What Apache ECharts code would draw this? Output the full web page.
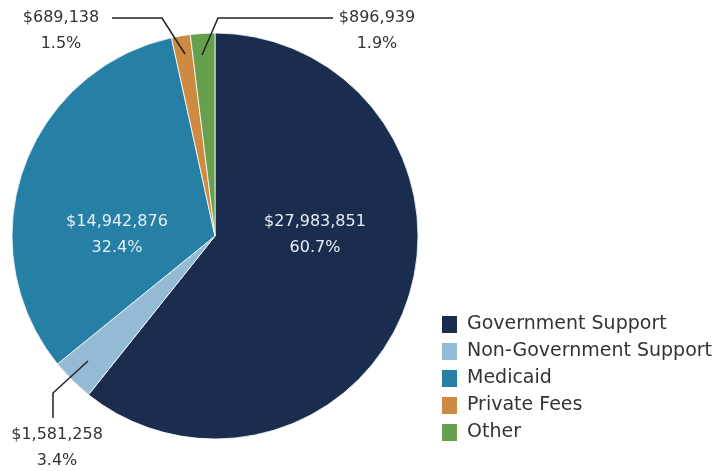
<!DOCTYPE html>
<html><head><meta charset="utf-8">
<script src="https://cdn.jsdelivr.net/npm/echarts@6/dist/echarts.min.js"></script>
<style>html,body{margin:0;padding:0;background:#fff}#c{width:727px;height:471px}</style>
</head><body><div id="c"></div>
<script>
const categories = ['Government Support','Non-Government Support','Medicaid','Private Fees','Other'];
const values = [27983851, 1581258, 14942876, 689138, 896939];
const colors = ['#1b2d4f','#95bad6','#2680a6','#cf8a42','#66a04e'];

const CX = 215, CY = 236, R = 203;
const FONT = 'DejaVu Sans';
// label layout per slice (offsets relative to pie centre)
const layouts = [
  {x: 100, y: -1},
  {x: -158, y: 212, line: [[-127,125],[-162,157],[-162,182]]},
  {x: -98, y: -1},
  {x: -154, y: -205, line: [[-30,-182],[-53,-218],[-103,-218]]},
  {x: 162, y: -205, line: [[-13,-181],[3,-218],[118,-218]]}
];
const inside = [true,false,true,false,false];

const labelBase = {
  fontFamily: FONT, fontSize: 16, lineHeight: 26, align: 'center',
  overflow: 'none', width: 140,
  formatter: p => '$' + p.value.toLocaleString('en-US') + '\n' + p.percent.toFixed(1) + '%'
};
function layoutFn(p) {
  const L = layouts[p.dataIndex];
  const out = {x: CX + L.x, y: CY + L.y, align: 'center', verticalAlign: 'middle'};
  if (L.line) out.labelLinePoints = L.line.map(q => [CX + q[0], CY + q[1]]);
  return out;
}

const chart = echarts.init(document.getElementById('c'));
chart.setOption({
  animation: false,
  legend: {
    orient: 'vertical', left: 440, top: 314, padding: 0,
    itemWidth: 17, itemHeight: 19, itemGap: 6,
    icon: 'rect',
    textStyle: {fontFamily: FONT, fontSize: 19, lineHeight: 19, color: '#333', padding: [0,0,0,4]},
    data: categories
  },
  series: [{
    type: 'pie', z: 2,
    center: [CX, CY], radius: R,
    startAngle: 90, clockwise: true,
    itemStyle: {borderColor: '#fff', borderWidth: 0.8},
    data: categories.map((n,i)=>({
      name: n, value: values[i],
      itemStyle: {color: colors[i]},
      label: {show: inside[i], position: 'inside', color: '#e9edf3'},
      labelLine: {show: false}
    })),
    label: labelBase,
    labelLayout: layoutFn
  }, {
    // transparent overlay carrying the outside labels so leader lines draw over slices
    type: 'pie', z: 5, silent: true, legendHoverLink: false,
    center: [CX, CY], radius: R,
    startAngle: 90, clockwise: true,
    itemStyle: {color: 'rgba(0,0,0,0)', borderWidth: 0},
    emphasis: {disabled: true},
    labelLine: {showAbove: true, lineStyle: {color: '#222', width: 1.5}},
    data: categories.map((n,i)=>({
      name: n, value: values[i],
      itemStyle: {color: 'rgba(0,0,0,0)'},
      label: {show: !inside[i], position: 'outside', color: '#333'},
      labelLine: {show: !inside[i]}
    })),
    label: labelBase,
    labelLayout: layoutFn
  }]
});
</script></body></html>
